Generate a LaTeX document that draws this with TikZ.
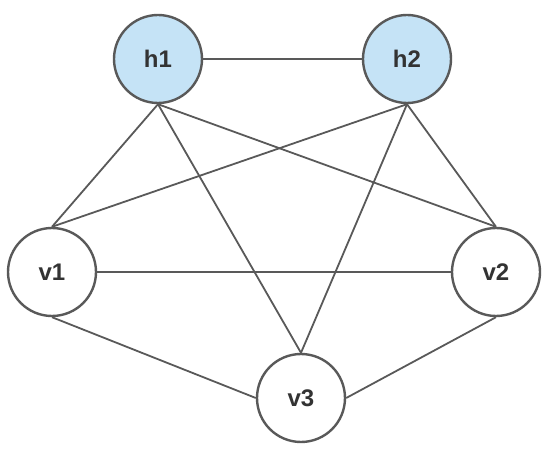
\documentclass[tikz,border=0pt]{standalone}
\usepackage{fontspec}
\setmainfont{Liberation Sans}
\usetikzlibrary{positioning}
\definecolor{edgegray}{HTML}{595959}
\definecolor{hidblue}{HTML}{C5E3F6}
\definecolor{labelgray}{HTML}{333333}
\tikzset{basic/.style={circle,draw=edgegray,line width=2.4pt,minimum size=88pt,inner sep=0pt,text=labelgray,font=\fontsize{24}{27}\selectfont\bfseries}}
\tikzset{visible/.style={basic,fill=white}}
\tikzset{hidden/.style={basic,fill=hidblue}}
\tikzset{link/.style={draw=edgegray,line width=1.8pt}}

\begin{document}
\begin{tikzpicture}[x=1pt,y=1pt]
    \useasboundingbox (0,0) rectangle (550,456);

    \node[hidden] (h1) at (158,397) {h1};
    \node[hidden] (h2) at (407,397) {h2};

    \node[visible] (v1) at (52,184) {v1};
    \node[visible] (v2) at (496,184) {v2};
    \node[visible] (v3) at (301,58) {v3};

        \path[link] (h1.east) -- (h2.west);
        \path[link] (v1.east) -- (v2.west);
        \path[link] (v1.south) -- (v3.west);
        \path[link] (v2.south) -- (v3.east);
        \path[link] (h1.south) -- (v1.north);
        \path[link] (h1.south) -- (v3.north);
        \path[link] (h1.south) -- (v2.north);
        \path[link] (h2.south) -- (v1.north);
        \path[link] (h2.south) -- (v3.north);
        \path[link] (h2.south) -- (v2.north);
      \end{tikzpicture}
\end{document}
